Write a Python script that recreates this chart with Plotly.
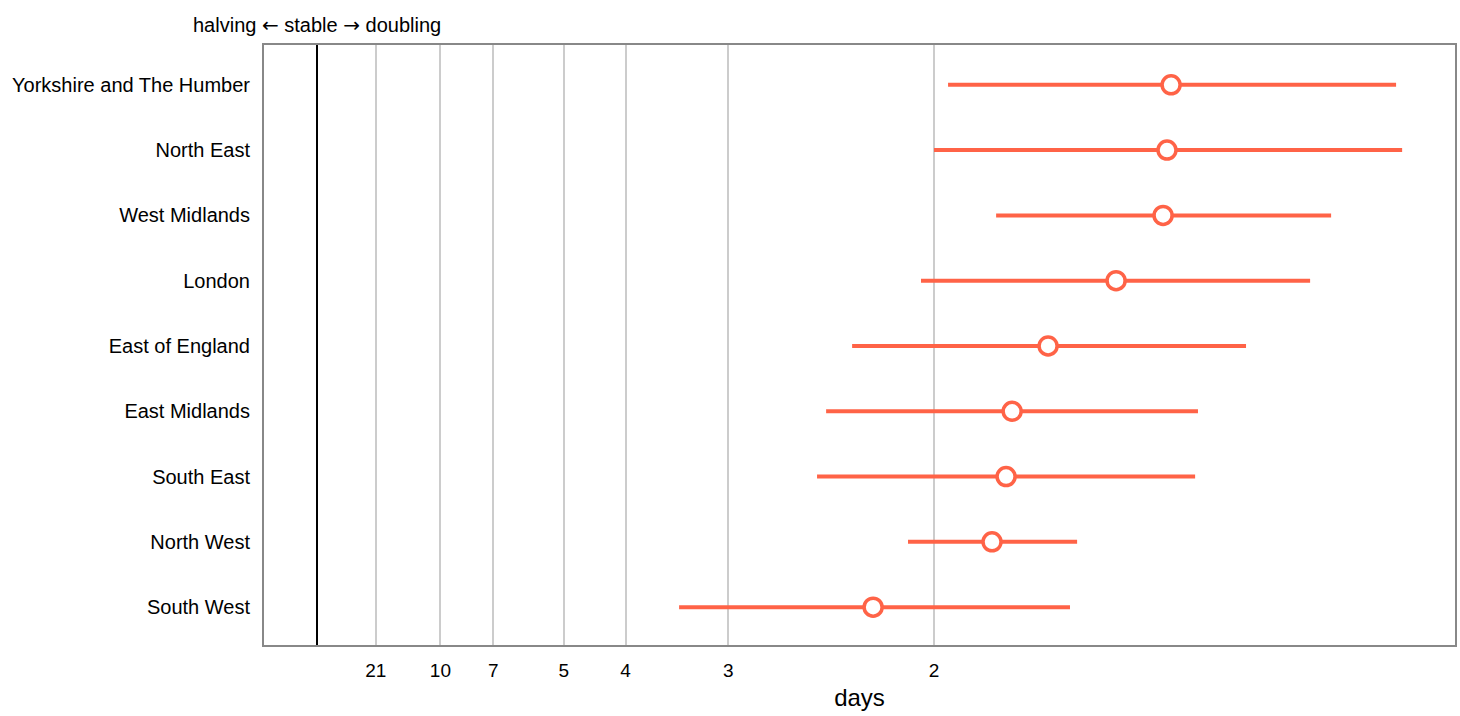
import math
import plotly.graph_objects as go

regions = ["South West", "North West", "South East", "East Midlands", "East of England",
           "London", "West Midlands", "North East", "Yorkshire and The Humber"]
# daily growth rates (log scale per day): lower bound, central estimate, upper bound
rate_low = [0.2034, 0.3320, 0.2809, 0.2860, 0.3006, 0.3393, 0.3815, 0.3466, 0.3545]
rate_mid = [0.3124, 0.3792, 0.3871, 0.3905, 0.4107, 0.4489, 0.4753, 0.4775, 0.4798]
rate_high = [0.4230, 0.4270, 0.4933, 0.4949, 0.5219, 0.5579, 0.5697, 0.6096, 0.6062]

tick_days = [21, 10, 7, 5, 4, 3, 2]
tick_rates = [math.log(2) / d for d in tick_days]
tick_labels = [str(d) for d in tick_days]

color = "#FF6347"
font_family = "Liberation Sans, Arial, sans-serif"
arrow_font = "DejaVu Sans"

fig = go.Figure()
fig.add_trace(go.Scatter(
    x=rate_mid,
    y=regions,
    mode="markers",
    marker=dict(symbol="circle", size=18, color="white", line=dict(color=color, width=3.5)),
    error_x=dict(
        type="data",
        symmetric=False,
        array=[h - m for h, m in zip(rate_high, rate_mid)],
        arrayminus=[m - l for m, l in zip(rate_mid, rate_low)],
        color=color,
        thickness=4,
        width=0,
    ),
    showlegend=False,
    hoverinfo="skip",
))

fig.update_layout(
    width=1460,
    height=716,
    margin=dict(l=264, r=5, t=45, b=71),
    paper_bgcolor="white",
    plot_bgcolor="white",
    font=dict(family=font_family, size=20, color="black"),
    xaxis=dict(
        range=[-0.0298, 0.6393],
        tickvals=tick_rates,
        ticktext=tick_labels,
        showgrid=True,
        gridcolor="#cccccc",
        gridwidth=2,
        zeroline=True,
        zerolinecolor="black",
        zerolinewidth=2,
        showline=True,
        linecolor="#888888",
        linewidth=2,
        mirror=True,
        ticks="outside",
        ticklen=7,
        tickcolor="rgba(0,0,0,0)",
        tickfont=dict(size=19),
        title=dict(text="days", font=dict(size=24), standoff=9),
        automargin=False,
        fixedrange=True,
    ),
    yaxis=dict(
        range=[-0.58, 8.61],
        categoryorder="array",
        categoryarray=regions,
        showgrid=False,
        zeroline=False,
        showline=True,
        linecolor="#888888",
        linewidth=2,
        mirror=True,
        ticks="outside",
        ticklen=8,
        tickcolor="rgba(0,0,0,0)",
        tickfont=dict(size=20),
        automargin=False,
        fixedrange=True,
    ),
    annotations=[dict(
        x=0, y=1, xref="x", yref="paper",
        text=("halving <span style=\"font-family:'" + arrow_font + "'\">←</span> stable "
              "<span style=\"font-family:'" + arrow_font + "'\">→</span> doubling"),
        showarrow=False,
        xanchor="center", yanchor="bottom",
        yshift=6,
        font=dict(size=20, family=font_family),
    )],
)

fig.write_html("out.html")
